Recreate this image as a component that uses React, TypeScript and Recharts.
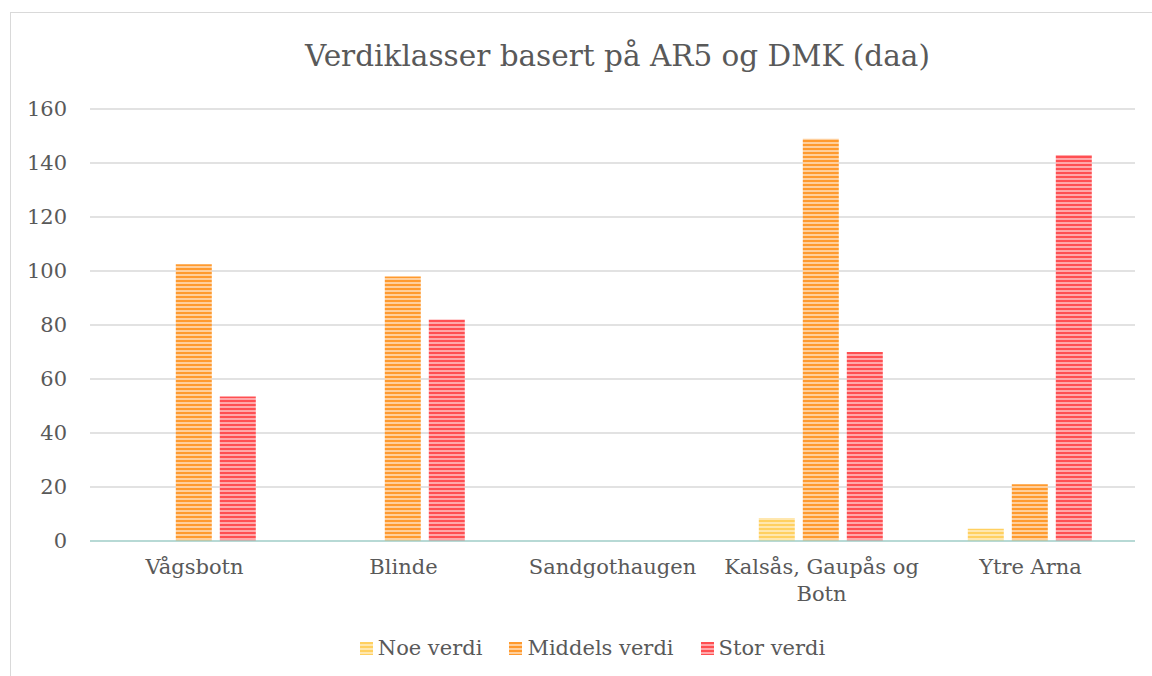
import { Bar, BarChart, CartesianGrid, Legend, XAxis, YAxis } from "recharts"

const steder = ["Vågsbotn", "Blinde", "Sandgothaugen", "Kalsås, Gaupås og Botn", "Ytre Arna"]
const noeVerdi = [0, 0, 0, 8.5, 4.5]
const middelsVerdi = [102.5, 98, 0, 149, 21]
const storVerdi = [53.5, 82, 0, 70, 143]
const yTicks = [0, 20, 40, 60, 80, 100, 120, 140, 160]

const data = steder.map((sted, i) => ({
  sted,
  noe: noeVerdi[i],
  middels: middelsVerdi[i],
  stor: storVerdi[i],
}))

const font = "'DejaVu Serif', serif"
const textColor = "#595959"

const series = [
  { key: "noe", name: "Noe verdi", color: "#ffd060", light: "#ffe7ae", id: "pNoe" },
  { key: "middels", name: "Middels verdi", color: "#ff9a2e", light: "#ffcf9c", id: "pMiddels" },
  { key: "stor", name: "Stor verdi", color: "#ff4f52", light: "#ffa8aa", id: "pStor" },
]

// simple word wrap, labels longer than ~17 chars go on two lines
const wrap = (label: string, maxChars = 17) => {
  const lines: string[] = []
  let cur = ""
  for (const w of label.split(" ")) {
    const next = cur ? cur + " " + w : w
    if (next.length > maxChars && cur) {
      lines.push(cur)
      cur = w
    } else {
      cur = next
    }
  }
  if (cur) lines.push(cur)
  return lines
}

const CategoryTick = (props: any) => {
  const { x, y, payload } = props
  return (
    <text x={x} y={y + 25} textAnchor="middle" fill={textColor} style={{ fontFamily: font, fontSize: 21 }}>
      {wrap(payload.value).map((line, i) => (
        <tspan key={i} x={x} dy={i === 0 ? 0 : 27}>
          {line}
        </tspan>
      ))}
    </text>
  )
}

const LegendContent = () => (
  <div
    style={{
      display: "flex",
      justifyContent: "center",
      gap: 27,
      paddingLeft: 40,
      fontFamily: font,
      fontSize: 21,
      color: textColor,
    }}
  >
    {series.map((s) => (
      <div key={s.key} style={{ display: "flex", alignItems: "center", gap: 5 }}>
        <svg width={13} height={13}>
          <rect width={13} height={13} fill={`url(#${s.id})`} />
        </svg>
        <span>{s.name}</span>
      </div>
    ))}
  </div>
)

export default function App() {
  return (
    <div style={{ position: "absolute", left: 0, top: 0, width: 1152, height: 676, background: "#fff", overflow: "hidden" }}>
      <div
        style={{
          position: "absolute",
          left: 10,
          top: 12,
          width: 1200,
          height: 700,
          borderLeft: "1.5px solid #d9d9d9",
          borderTop: "1.5px solid #d9d9d9",
        }}
      />
      <div
        style={{
          position: "absolute",
          left: 95,
          width: 1045,
          top: 36,
          textAlign: "center",
          fontFamily: font,
          fontSize: 29.5,
          lineHeight: "40px",
          color: textColor,
        }}
      >
        Verdiklasser basert på AR5 og DMK (daa)
      </div>
      <div style={{ position: "absolute", left: 0, top: 0 }}>
        <BarChart
          width={1152}
          height={676}
          data={data}
          margin={{ top: 109, right: 17, left: 10, bottom: 16 }}
          barCategoryGap="20%"
          barGap={8}
        >
          <defs>
            {series.map((s) => (
              <pattern key={s.id} id={s.id} width={4} height={4} patternUnits="userSpaceOnUse">
                <rect width={4} height={4} fill={s.light} />
                <rect width={4} height={2} fill={s.color} />
              </pattern>
            ))}
          </defs>
          <CartesianGrid vertical={false} stroke="#d9d9d9" strokeWidth={1.5} />
          <XAxis
            dataKey="sted"
            height={95}
            interval={0}
            tickLine={false}
            axisLine={{ stroke: "#a9d6d0", strokeWidth: 1.5 }}
            tick={<CategoryTick />}
          />
          <YAxis
            width={80}
            domain={[0, 160]}
            ticks={yTicks}
            axisLine={false}
            tickLine={false}
            tickMargin={17}
            tick={{ fill: textColor, fontFamily: font, fontSize: 21 }}
          />
          <Legend verticalAlign="bottom" content={<LegendContent />} />
          {series.map((s) => (
            <Bar
              key={s.key}
              dataKey={s.key}
              name={s.name}
              fill={`url(#${s.id})`}
              isAnimationActive={false}
            />
          ))}
        </BarChart>
      </div>
    </div>
  )
}
